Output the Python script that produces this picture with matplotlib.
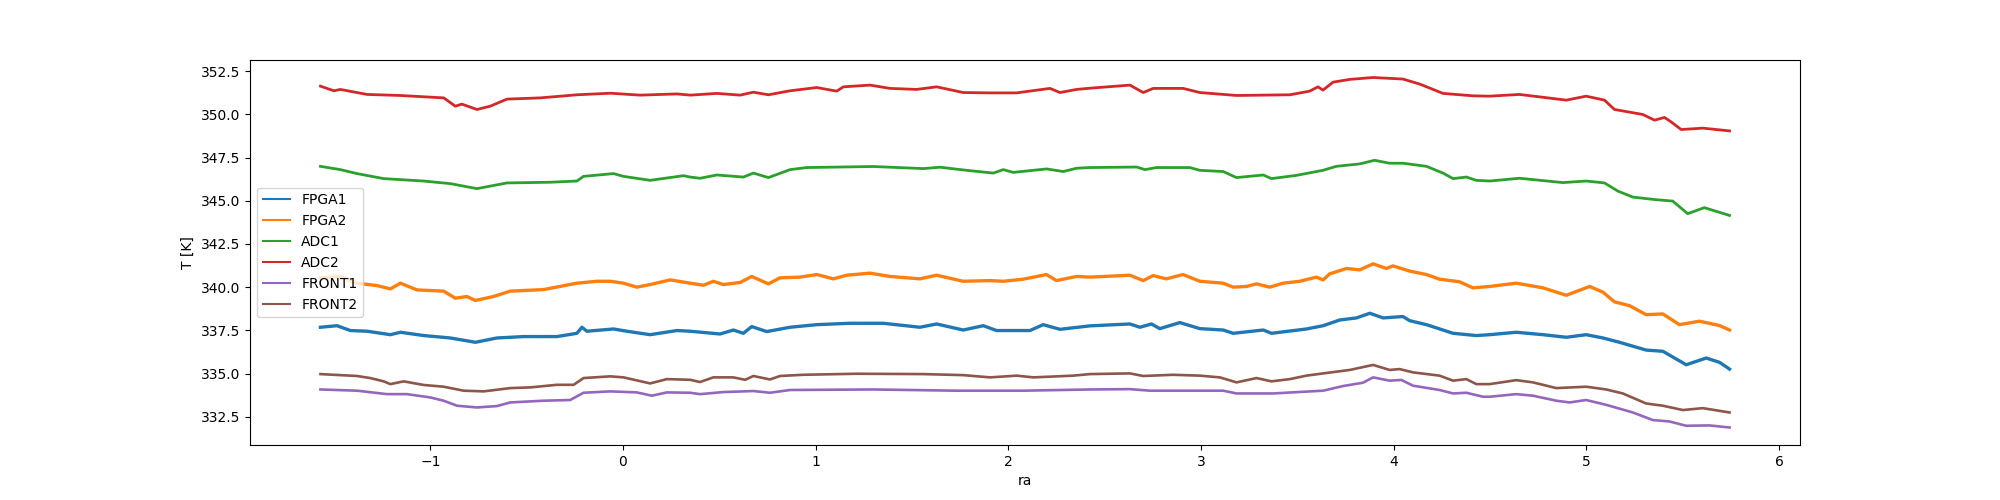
# plot.py - board temperatures vs ra

import matplotlib

matplotlib.use('Agg')
import matplotlib.pyplot as plt

# --- data ---
labels = ['FPGA1', 'FPGA2', 'ADC1', 'ADC2', 'FRONT1', 'FRONT2']

ra_fpga1 = [-1.57, -1.484, -1.415, -1.328, -1.207, -1.155, -1.034, -0.896, -0.766, -0.654,
            -0.516, -0.343, -0.239, -0.213, -0.187, -0.049, 0.02, 0.141, 0.28,
            0.349, 0.504, 0.573, 0.625, 0.668, 0.746, 0.867, 1.006, 1.178, 1.351,
            1.541, 1.628, 1.766, 1.87, 1.939, 2.112, 2.181, 2.268,
            2.423, 2.631, 2.683, 2.743, 2.786, 2.89, 2.994, 3.115, 3.167, 3.323,
            3.366, 3.547, 3.634, 3.72, 3.807, 3.876, 3.945, 4.048, 4.083, 4.17, 4.308, 4.429,
            4.498, 4.636, 4.775, 4.896, 4.999, 5.086, 5.172, 5.31, 5.397, 5.518, 5.622, 5.691, 5.743]
fpga1 = [337.68, 337.77, 337.49, 337.45, 337.25, 337.39, 337.20, 337.06, 336.81, 337.06,
         337.14, 337.14, 337.33, 337.68, 337.45, 337.58, 337.45, 337.25, 337.49,
         337.45, 337.29, 337.52, 337.33, 337.72, 337.43, 337.68, 337.83, 337.91, 337.91,
         337.68, 337.87, 337.52, 337.77, 337.49, 337.49, 337.83, 337.56,
         337.76, 337.87, 337.68, 337.87, 337.60, 337.95, 337.60, 337.52, 337.33, 337.52,
         337.33, 337.58, 337.77, 338.10, 338.22, 338.49, 338.22, 338.30, 338.06, 337.83, 337.33, 337.20,
         337.25, 337.39, 337.25, 337.10, 337.25, 337.06, 336.81, 336.36, 336.29, 335.51, 335.90, 335.65, 335.26]

ra_fpga2 = [-1.57, -1.467, -1.38, -1.276, -1.207, -1.155, -1.069, -0.931, -0.870, -0.810,
            -0.766, -0.671, -0.585, -0.412, -0.239, -0.135, -0.066, 0.003, 0.072, 0.141, 0.245,
            0.349, 0.418, 0.469, 0.521, 0.608, 0.668, 0.755, 0.815, 0.919, 1.006, 1.092,
            1.161, 1.282, 1.386, 1.541, 1.628, 1.766, 1.905, 1.974, 2.077, 2.198, 2.25, 2.354,
            2.423, 2.631, 2.70, 2.752, 2.82, 2.907, 2.994, 3.115, 3.167, 3.236, 3.288, 3.357,
            3.426, 3.513, 3.599, 3.634, 3.668, 3.755, 3.824, 3.893, 3.962, 3.996, 4.083, 4.17,
            4.238, 4.342, 4.411,
            4.498, 4.636, 4.775, 4.896, 5.017, 5.086, 5.146, 5.224, 5.31, 5.397, 5.483, 5.587, 5.691, 5.743]
fpga2 = [340.54, 340.62, 340.23, 340.09, 339.90, 340.23, 339.84, 339.77, 339.36, 339.46,
         339.23, 339.46, 339.77, 339.86, 340.23, 340.34, 340.34, 340.23, 340.00, 340.15, 340.42,
         340.23, 340.11, 340.34, 340.15, 340.27, 340.62, 340.19, 340.54, 340.58, 340.73, 340.48,
         340.69, 340.81, 340.62, 340.48, 340.69, 340.34, 340.38, 340.34, 340.46, 340.73, 340.38, 340.62,
         340.58, 340.69, 340.38, 340.67, 340.48, 340.73, 340.34, 340.23, 340.00, 340.04, 340.19, 340.00,
         340.23, 340.34, 340.58, 340.42, 340.77, 341.08, 341.00, 341.35, 341.08, 341.23, 340.93, 340.73,
         340.46, 340.31, 339.96,
         340.04, 340.23, 339.96, 339.53, 340.04, 339.71, 339.15, 338.93, 338.41, 338.45, 337.83, 338.03, 337.78, 337.52]

ra_adc1 = [-1.57, -1.467, -1.38, -1.242, -1.035, -0.896, -0.758, -0.602, -0.378, -0.239,
           -0.205, -0.049, 0.003, 0.141, 0.314,
           0.349, 0.40, 0.487, 0.625, 0.677, 0.755, 0.867, 0.954, 1.30, 1.559, 1.645, 1.783,
           1.922, 1.974, 2.025, 2.199, 2.285, 2.354,
           2.423, 2.666, 2.709, 2.769, 2.942, 2.994, 3.115, 3.184, 3.323, 3.366, 3.496, 3.633,
           3.702, 3.823, 3.901, 3.979, 4.048, 4.17, 4.256, 4.308, 4.377, 4.429,
           4.498, 4.653, 4.878, 4.999, 5.094, 5.163, 5.241, 5.362, 5.448, 5.526, 5.612, 5.743]
adc1 = [346.99, 346.80, 346.57, 346.28, 346.14, 345.99, 345.70, 346.03, 346.07, 346.14,
        346.41, 346.57, 346.41, 346.18, 346.45,
        346.37, 346.30, 346.49, 346.37, 346.60, 346.34, 346.80, 346.92, 346.98, 346.86, 346.94, 346.76,
        346.60, 346.80, 346.64, 346.84, 346.69, 346.88,
        346.92, 346.95, 346.80, 346.92, 346.92, 346.76, 346.69, 346.34, 346.49, 346.28, 346.47, 346.76,
        346.99, 347.13, 347.34, 347.17, 347.17, 346.99, 346.60, 346.28, 346.37, 346.18,
        346.14, 346.30, 346.05, 346.14, 346.03, 345.56, 345.21, 345.06, 344.98, 344.25, 344.60, 344.15]

ra_adc2 = [-1.57, -1.50, -1.467, -1.328, -1.156, -0.93, -0.87, -0.836, -0.758, -0.689,
           -0.602, -0.43, -0.239, -0.066, 0.089, 0.28,
           0.35, 0.487, 0.608, 0.677, 0.755, 0.867, 1.006, 1.109, 1.144, 1.282, 1.386, 1.524,
           1.628, 1.766, 1.905, 2.043, 2.216, 2.268, 2.354,
           2.423, 2.631, 2.70, 2.752, 2.907, 2.994, 3.184, 3.461, 3.564, 3.607, 3.633, 3.685,
           3.772, 3.893, 4.048, 4.135, 4.256, 4.411,
           4.498, 4.653, 4.896, 4.999, 5.094, 5.146, 5.293, 5.354, 5.405, 5.44, 5.492, 5.605, 5.743]
adc2 = [351.63, 351.36, 351.44, 351.15, 351.09, 350.95, 350.47, 350.59, 350.28, 350.47,
        350.88, 350.95, 351.13, 351.22, 351.11, 351.18,
        351.11, 351.21, 351.11, 351.28, 351.13, 351.36, 351.55, 351.34, 351.59, 351.69, 351.50, 351.44,
        351.59, 351.26, 351.24, 351.24, 351.50, 351.26, 351.44,
        351.51, 351.69, 351.26, 351.50, 351.50, 351.26, 351.09, 351.13, 351.34, 351.59, 351.40, 351.86,
        352.02, 352.13, 352.04, 351.75, 351.21, 351.07,
        351.05, 351.15, 350.82, 351.05, 350.82, 350.28, 349.99, 349.66, 349.82, 349.56, 349.12, 349.20, 349.04]

ra_front1 = [-1.57, -1.38, -1.225, -1.121, -1.0, -0.931, -0.861, -0.758, -0.654, -0.585,
             -0.412, -0.274, -0.205, -0.066, 0.072, 0.15, 0.228,
             0.349, 0.40, 0.521, 0.677, 0.763, 0.867, 1.299, 1.732, 2.077,
             2.423, 2.631, 2.735, 3.115, 3.184, 3.374, 3.634, 3.738, 3.84, 3.893, 3.979, 4.04,
             4.1, 4.238, 4.308, 4.377, 4.463,
             4.498, 4.636, 4.723, 4.844, 4.913, 4.999, 5.103, 5.241, 5.345, 5.431, 5.518, 5.639, 5.743]
front1 = [334.08, 334.01, 333.81, 333.81, 333.62, 333.43, 333.14, 333.04, 333.12, 333.33,
          333.43, 333.47, 333.89, 333.97, 333.91, 333.72, 333.91,
          333.89, 333.81, 333.93, 333.99, 333.89, 334.05, 334.08, 334.01, 334.01,
          334.08, 334.10, 334.01, 334.01, 333.85, 333.85, 334.01, 334.28, 334.47, 334.78, 334.59, 334.63,
          334.30, 334.05, 333.85, 333.89, 333.66,
          333.66, 333.81, 333.72, 333.43, 333.33, 333.47, 333.19, 332.75, 332.31, 332.23, 331.98, 332.00, 331.88]

ra_front2 = [-1.57, -1.38, -1.311, -1.242, -1.207, -1.138, -1.034, -0.931, -0.827, -0.723,
             -0.585, -0.481, -0.343, -0.256, -0.205, -0.066, 0.003, 0.141, 0.228,
             0.349, 0.40, 0.469, 0.573, 0.634, 0.677, 0.763, 0.815, 0.936, 1.213, 1.559,
             1.766, 1.905, 2.043, 2.13, 2.337,
             2.423, 2.631, 2.70, 2.855, 2.994, 3.098, 3.184, 3.288, 3.366, 3.461, 3.547, 3.634,
             3.772, 3.893, 3.979, 4.031, 4.1, 4.238, 4.308, 4.377, 4.429,
             4.498, 4.636, 4.723, 4.844, 4.999, 5.103, 5.189, 5.31, 5.397, 5.501, 5.604, 5.743]
front2 = [334.97, 334.86, 334.74, 334.55, 334.39, 334.55, 334.34, 334.24, 334.01, 333.97,
          334.16, 334.20, 334.35, 334.35, 334.74, 334.84, 334.78, 334.43, 334.68,
          334.64, 334.51, 334.78, 334.78, 334.64, 334.86, 334.66, 334.86, 334.93, 334.99, 334.97,
          334.91, 334.78, 334.88, 334.78, 334.88,
          334.97, 335.01, 334.86, 334.93, 334.88, 334.78, 334.49, 334.74, 334.55, 334.68, 334.88, 335.01,
          335.21, 335.50, 335.21, 335.26, 335.07, 334.88, 334.59, 334.68, 334.39,
          334.39, 334.62, 334.49, 334.16, 334.24, 334.08, 333.85, 333.27, 333.14, 332.89, 333.00, 332.75]

series = [(ra_fpga1, fpga1), (ra_fpga2, fpga2), (ra_adc1, adc1),
          (ra_adc2, adc2), (ra_front1, front1), (ra_front2, front2)]
# the raw signals are noisy, so the traces look a bit heavier than 1.5 pt
widths = [2.4, 2.4, 2.0, 2.0, 1.9, 1.9]

plt.figure(figsize=(20, 5), dpi=100)
for (ra, temp), name, lw in zip(series, labels, widths):
    plt.plot(ra, temp, label=name, lw=lw)

plt.xlabel('ra')
plt.ylabel('T [K]')
leg = plt.legend(loc='center left')
for handle in leg.get_lines():
    handle.set_linewidth(1.5)
plt.savefig('out.png')
plt.close()
